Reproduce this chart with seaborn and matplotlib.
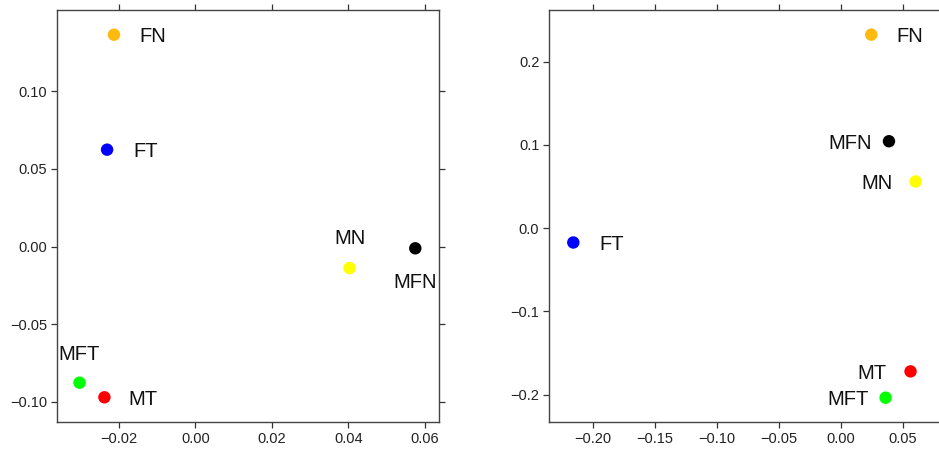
import matplotlib
matplotlib.use("Agg")
import matplotlib.pyplot as plt
import seaborn as sns
import pandas as pd

# Group names and their colours
groups = ["FN", "FT", "MN", "MFN", "MFT", "MT"]
colors = ["#FFB90F", "#0000FF", "#FFFF00", "#000000", "#00FF00", "#FF0000"]

# Left ordination: coordinates per group
left_x = [-0.0213, -0.0231, 0.0403, 0.0575, -0.0303, -0.0238]
left_y = [0.1364, 0.0624, -0.0138, -0.0011, -0.0876, -0.0970]

# Right ordination: coordinates per group
right_x = [0.0244, -0.2159, 0.0602, 0.0387, 0.0360, 0.0561]
right_y = [0.2324, -0.0172, 0.0560, 0.1044, -0.2036, -0.1720]

# Tick values
left_xticks = [-0.02, 0.00, 0.02, 0.04, 0.06]
left_yticks = [-0.10, -0.05, 0.00, 0.05, 0.10]
right_xticks = [-0.20, -0.15, -0.10, -0.05, 0.00, 0.05]
right_yticks = [-0.2, -0.1, 0.0, 0.1, 0.2]

# Label placement relative to each point (direction, distance in px)
left_place = {"FN": ("right", 25), "FT": ("right", 26), "MN": ("above", 24),
              "MFN": ("below", 25), "MFT": ("above", 23), "MT": ("right", 24)}
right_place = {"FN": ("right", 25), "FT": ("right", 26), "MN": ("left", 23),
               "MFN": ("left", 17), "MFT": ("left", 17), "MT": ("left", 24)}

sns.set_style("white")
plt.rcParams["font.family"] = ["Liberation Sans", "DejaVu Sans"]
plt.rcParams["axes.unicode_minus"] = True

W, H = 939, 453
fig = plt.figure(figsize=(W / 100, H / 100), dpi=100)
ax1 = fig.add_axes([57 / W, (H - 422) / H, (439 - 57) / W, (422 - 10) / H])
ax2 = fig.add_axes([549 / W, (H - 422) / H, (946 - 549) / W, (422 - 10) / H])


def draw(ax, xs, ys, place, xlim, ylim, xticks, yticks, fmt_x, fmt_y):
    df = pd.DataFrame({"x": xs, "y": ys, "group": groups})
    sns.scatterplot(data=df, x="x", y="y", hue="group", hue_order=groups,
                    palette=colors, s=80, edgecolor="none", legend=False, ax=ax)
    for gx, gy, g in zip(xs, ys, groups):
        side, d = place[g]
        d = d * 0.72
        if side == "right":
            off, ha, va = (d, 0), "left", "center_baseline"
        elif side == "left":
            off, ha, va = (-d, 0), "right", "center_baseline"
        elif side == "above":
            off, ha, va = (0, d), "center", "baseline"
        else:
            off, ha, va = (0, -d), "center", "top"
        ax.annotate(g, (gx, gy), xytext=off, textcoords="offset points",
                    ha=ha, va=va, fontsize=14.5, color="#111111")
    ax.set_xlim(*xlim)
    ax.set_ylim(*ylim)
    ax.set_xticks(xticks)
    ax.set_yticks(yticks)
    ax.set_xticklabels([fmt_x.format(v).replace("-", "\u2212") for v in xticks])
    ax.set_yticklabels([fmt_y.format(v).replace("-", "\u2212") for v in yticks])
    ax.set_xlabel("")
    ax.set_ylabel("")
    ax.tick_params(axis="both", which="both", direction="out", length=4,
                   width=0.9, color="#333333", labelsize=10.5,
                   labelcolor="#222222", pad=3,
                   top=True, right=True, bottom=True, left=True)
    for sp in ax.spines.values():
        sp.set_visible(True)
        sp.set_color("#444444")
        sp.set_linewidth(1.0)


draw(ax1, left_x, left_y, left_place, (-0.0362, 0.0637), (-0.1129, 0.1523),
     left_xticks, left_yticks, "{:.2f}", "{:.2f}")
draw(ax2, right_x, right_y, right_place, (-0.2355, 0.0847), (-0.2328, 0.262),
     right_xticks, right_yticks, "{:.2f}", "{:.1f}")

fig.savefig("out.png", dpi=100)
